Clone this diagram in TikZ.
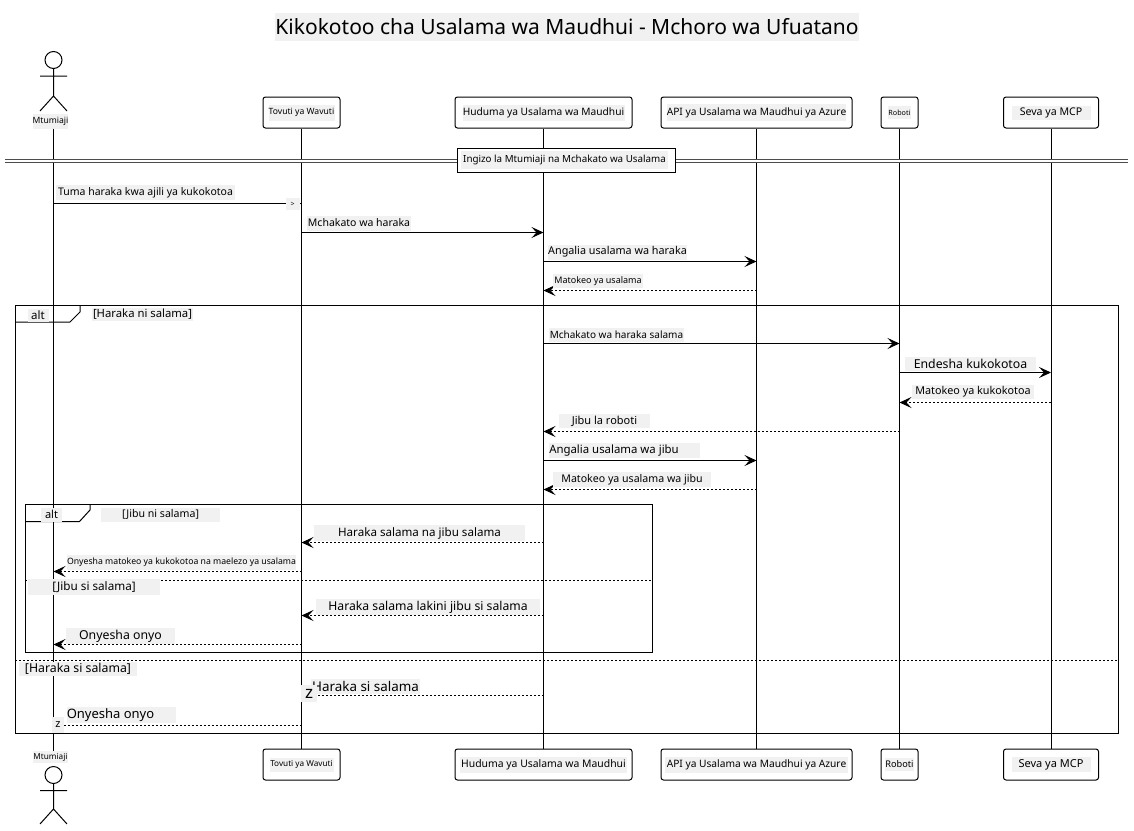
\documentclass[tikz,border=0pt]{standalone}
\usepackage{fontspec}
\setmainfont{Noto Sans}
\usetikzlibrary{arrows.meta}

\definecolor{patch}{HTML}{F1F1F1}

\tikzset{
  lbl/.style n args={3}{fill=patch,inner sep=0pt,minimum width=#1pt,minimum height=#2pt,font=\fontsize{#3}{#3}\selectfont},
  partbox/.style={draw,fill=white,rounded corners=2.5pt,minimum height=31pt,inner sep=0pt},
  msg/.style={-{Stealth[length=12pt,width=11pt,inset=5pt]}},
  ret/.style={msg,dash pattern=on 2pt off 2pt},
  sepline/.style={dash pattern=on 2pt off 2pt}
}

\begin{document}
\begin{tikzpicture}[x=1pt,y=-1pt,line width=1pt]
\useasboundingbox (0,0) rectangle (1134,830);

\node[lbl={584}{28}{21}] (title) at (567,27) {Kikokotoo cha Usalama wa Maudhui - Mchoro wa Ufuatano};

% Participants, top row
\node[lbl={35}{15}{8.6}] (mtumiajiT) at (50.5,121) {Mtumiaji};
\node[partbox,minimum width=77pt] (tovutiT) at (301.5,112.5) {};
\node[partbox,minimum width=177pt] (hudumaT) at (543.5,112.5) {};
\node[partbox,minimum width=191pt] (apiT) at (756.5,112.5) {};
\node[partbox,minimum width=37pt] (robotiT) at (899.5,112.5) {};
\node[partbox,minimum width=95pt] (sevaT) at (1051,112.5) {};

% Participants, bottom row
\node[lbl={33}{12}{8.2}] (mtumiajiB) at (50.5,757) {Mtumiaji};
\node[partbox,minimum width=77pt] (tovutiB) at (301.5,764.5) {};
\node[partbox,minimum width=177pt] (hudumaB) at (543.5,764.5) {};
\node[partbox,minimum width=191pt] (apiB) at (756.5,764.5) {};
\node[partbox,minimum width=37pt] (robotiB) at (899.5,764.5) {};
\node[partbox,minimum width=95pt] (sevaB) at (1051,764.5) {};

% Lifelines
\coordinate (actorT) at (53.5,128.5);
\coordinate (actorB) at (53.5,751);
\draw (actorT) -- (actorB);
\draw (tovutiT) -- (tovutiB);
\draw (hudumaT) -- (hudumaB);
\draw (apiT) -- (apiB);
\draw (robotiT) -- (robotiB);
\draw (sevaT) -- (sevaB);

% Box labels go over the lifelines
\node[lbl={66}{16}{8.6}] at (tovutiT) {Tovuti ya Wavuti};
\node[lbl={162}{16}{10.2}] at (hudumaT) {Huduma ya Usalama wa Maudhui};
\node[lbl={178}{17}{10.2}] at (apiT) {API ya Usalama wa Maudhui ya Azure};
\node[lbl={23}{13}{7.2}] at (robotiT) {Roboti};
\node[lbl={79}{14}{10.6}] at (sevaT) {Seva ya MCP};
\node[lbl={64}{14}{8.2}] at (tovutiB) {Tovuti ya Wavuti};
\node[lbl={167}{16}{10.4}] at (hudumaB) {Huduma ya Usalama wa Maudhui};
\node[lbl={183}{16}{10.2}] at (apiB) {API ya Usalama wa Maudhui ya Azure};
\node[lbl={29}{13}{9.2}] at (robotiB) {Roboti};
\node[lbl={79}{15}{11}] at (sevaB) {Seva ya MCP};

% Actor, top and bottom
\draw (53.5,60) circle (8.5);
\draw (53.5,68.5) -- (53.5,96) (40,76) -- (67,76) (40,111) -- (53.5,96) -- (67,111);
\draw (53.5,775) circle (8.5);
\draw (53.5,783.5) -- (53.5,809) (40,790.5) -- (67,790.5) (40,824) -- (53.5,809) -- (67,824);

% Section divider
\coordinate (divL) at (5,161);
\coordinate (divR) at (1128,161);
\draw[double,double distance=2pt,line width=.8pt,color=black!70] (divL) -- (divR);
\node[draw,fill=white,minimum width=218pt,minimum height=24pt,inner sep=0pt] (section) at (566.5,160) {};
\node[lbl={207}{18}{9.8}] at (564.5,160) {Ingizo la Mtumiaji na Mchakato wa Usalama};

% Message rows
\coordinate (m1) at (0,203.5);
\coordinate (m2) at (0,232.5);
\coordinate (m3) at (0,261.5);
\coordinate (m4) at (0,290.5);
\coordinate (m5) at (0,343.5);
\coordinate (m6) at (0,372.5);
\coordinate (m7) at (0,402.5);
\coordinate (m8) at (0,431.5);
\coordinate (m9) at (0,460.5);
\coordinate (m10) at (0,489.5);
\coordinate (m11) at (0,542.5);
\coordinate (m12) at (0,571.5);
\coordinate (m13) at (0,615.5);
\coordinate (m14) at (0,644.5);
\coordinate (m15) at (0,695.5);
\coordinate (m16) at (0,725.5);

\draw (actorT |- m1) -- (tovutiT |- m1);
\draw[msg] (tovutiT |- m2) -- (hudumaT |- m2);
\draw[msg] (hudumaT |- m3) -- (apiT |- m3);
\draw[ret] (apiT |- m4) -- (hudumaT |- m4);
\draw[msg] (hudumaT |- m5) -- (robotiT |- m5);
\draw[msg] (robotiT |- m6) -- (sevaT |- m6);
\draw[ret] (sevaT |- m7) -- (robotiT |- m7);
\draw[ret] (robotiT |- m8) -- (hudumaT |- m8);
\draw[msg] (hudumaT |- m9) -- (apiT |- m9);
\draw[ret] (apiT |- m10) -- (hudumaT |- m10);
\draw[ret] (hudumaT |- m11) -- (tovutiT |- m11);
\draw[ret] (tovutiT |- m12) -- (actorT |- m12);
\draw[ret] (hudumaT |- m13) -- (tovutiT |- m13);
\draw[ret] (tovutiT |- m14) -- (actorT |- m14);
\draw[sepline] (hudumaT |- m15) -- (tovutiT |- m15);
\draw[sepline] (tovutiT |- m16) -- (actorT |- m16);

% Frames
\coordinate (outerA) at (15,305.5);
\coordinate (outerB) at (1118,733.5);
\coordinate (innerA) at (25,504.5);
\coordinate (innerB) at (652,652.5);
\coordinate (outerSepL) at (15,660.5);
\coordinate (outerSepR) at (1118,660.5);
\coordinate (innerSepL) at (25,580.5);
\coordinate (innerSepR) at (652,580.5);
\draw (outerA) rectangle (outerB);
\draw (15,322) -- (70,322) -- (80,312) -- (80,305.5);
\draw (innerA) rectangle (innerB);
\draw (25,521.5) -- (79.5,521.5) -- (90,510) -- (90,504.5);
\draw[sepline] (outerSepL) -- (outerSepR);
\draw[sepline] (innerSepL) -- (innerSepR);

% Frame texts
\node[lbl={21}{13}{11.5}] at (38,315) {alt};
\node[lbl={101}{13}{11.3}] at (142.5,314) {[Haraka ni salama]};
\node[lbl={21}{14}{11}] at (51.5,514.5) {alt};
\node[lbl={119}{14}{10.6}] at (160.5,514.5) {[Jibu ni salama]};
\node[lbl={132}{16}{11.7}] at (94,587) {[Jibu si salama]};
\node[lbl={118}{14}{12.3}] at (78,668.5) {[Haraka si salama]};

% Message labels
\node[lbl={179}{15}{10.5}] at (145.5,192.5) {Tuma haraka kwa ajili ya kukokotoa};
\node[lbl={14}{12}{7}] at (292.5,204) {>};
\node[lbl={104}{15}{10.5}] at (359,223) {Mchakato wa haraka};
\node[lbl={139}{15}{10.8}] at (617.5,252) {Angalia usalama wa haraka};
\node[lbl={90}{14}{9}] at (598,281) {Matokeo ya usalama};
\node[lbl={135}{14}{10}] at (616.5,335) {Mchakato wa haraka salama};
\node[lbl={131}{14}{12.3}] at (970.5,364) {Endesha kukokotoa};
\node[lbl={122}{14}{10.8}] at (973,392) {Matokeo ya kukokotoa};
\node[lbl={91}{14}{11}] at (604.5,421) {Jibu la roboti};
\node[lbl={151}{15}{11.4}] at (624.5,450.5) {Angalia usalama wa jibu\kern21pt};
\node[lbl={158}{15}{10.6}] at (632,479.5) {Matokeo ya usalama wa jibu};
\node[lbl={211}{16}{11.6}] at (419.5,533) {Haraka salama na jibu salama};
\node[lbl={229}{15}{8.7}] at (181.5,562.5) {Onyesha matokeo ya kukokotoa na maelezo ya usalama};
\node[lbl={224}{16}{12.2}] at (428,607) {Haraka salama lakini jibu si salama};
\node[lbl={109}{16}{12.3}] at (120.5,636) {Onyesha onyo};
\node[lbl={109}{15}{13.4}] at (365.5,686.5) {Haraka si salama};
\node[lbl={16}{17}{17}] at (309,693.5) {z};
\node[lbl={109}{16}{13}] at (121.5,715) {Onyesha onyo\kern22pt};
\node[lbl={12}{16}{11}] at (58,725) {z};

\end{tikzpicture}
\end{document}
